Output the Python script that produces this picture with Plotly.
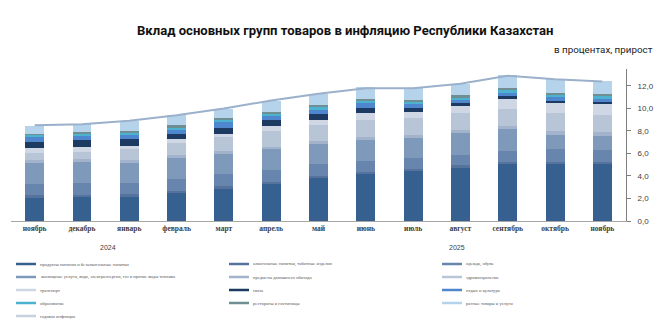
import plotly.graph_objects as go

# Months on the category axis (Nov 2024 .. Nov 2025)
months = ["ноябрь", "декабрь", "январь", "февраль", "март", "апрель", "май",
          "июнь", "июль", "август", "сентябрь", "октябрь", "ноябрь"]

# Contribution of each group to annual CPI, percentage points
food = [2.05, 2.13, 2.20, 2.46, 2.85, 3.26, 3.82, 4.15, 4.42, 4.71, 5.04, 5.13, 5.13]
alcohol = [0.23, 0.21, 0.17, 0.21, 0.30, 0.21, 0.21, 0.18, 0.24, 0.24, 0.20, 0.11, 0.11]
clothing = [1.04, 1.04, 1.01, 1.06, 1.03, 1.10, 1.07, 1.04, 0.94, 0.89, 0.98, 1.13, 1.11]
housing = [1.84, 1.86, 1.78, 1.84, 1.81, 1.80, 1.72, 1.80, 1.78, 1.96, 1.93, 1.31, 1.18]
household = [0.24, 0.24, 0.24, 0.27, 0.21, 0.18, 0.26, 0.27, 0.24, 0.26, 0.33, 0.29, 0.35]
health = [0.65, 0.62, 0.97, 1.06, 1.27, 1.45, 1.45, 1.57, 1.54, 1.54, 1.51, 1.63, 1.52]
transport = [0.44, 0.48, 0.33, 0.36, 0.30, 0.42, 0.42, 0.54, 0.50, 0.65, 0.85, 0.95, 0.97]
communication = [0.53, 0.59, 0.56, 0.51, 0.50, 0.56, 0.56, 0.53, 0.39, 0.24, 0.24, 0.12, 0.18]
recreation = [0.45, 0.42, 0.39, 0.38, 0.50, 0.39, 0.42, 0.38, 0.30, 0.30, 0.33, 0.35, 0.29]
education = [0.18, 0.21, 0.17, 0.15, 0.18, 0.18, 0.17, 0.18, 0.20, 0.21, 0.21, 0.21, 0.24]
restaurants = [0.12, 0.11, 0.15, 0.20, 0.18, 0.17, 0.21, 0.18, 0.18, 0.17, 0.18, 0.18, 0.21]
misc = [0.68, 0.69, 0.93, 0.90, 0.86, 0.95, 1.01, 1.09, 1.09, 1.04, 1.15, 1.19, 1.13]

# Annual inflation, %
annual = [8.5, 8.6, 8.9, 9.4, 10.0, 10.7, 11.3, 11.8, 11.8, 12.2, 12.9, 12.6, 12.4]

years = ["2024", "2025"]

series = [
    ("продукты питания и безалкогольные напитки", food, "#36608f"),
    ("алкогольные напитки, табачные изделия", alcohol, "#55739c"),
    ("одежда, обувь", clothing, "#6886ad"),
    ("жилищные услуги, вода, электроэнергия, газ и прочие виды топлива", housing, "#7f99bb"),
    ("предметы домашнего обихода", household, "#a2b3cb"),
    ("здравоохранение", health, "#b8c5d7"),
    ("транспорт", transport, "#ced7e3"),
    ("связь", communication, "#1c3a62"),
    ("отдых и культура", recreation, "#4f87cf"),
    ("образование", education, "#4cb2cf"),
    ("рестораны и гостиницы", restaurants, "#6f8f92"),
    ("разные товары и услуги", misc, "#b5d4ec"),
]
line_name = "годовая инфляция"
line_color = "#9bb0ca"

x = list(range(len(months)))

fig = go.Figure()
for name, vals, color in series:
    fig.add_trace(go.Bar(x=x, y=vals, name=name, marker_color=color,
                         marker_line_width=0, showlegend=False))
fig.add_trace(go.Scatter(x=x, y=annual, name=line_name, mode="lines",
                         line=dict(color=line_color, width=2), showlegend=False))

W, H = 671, 333
ML, MR, MT, MB = 11, 45, 69, 112
PW, PH = W - ML - MR, H - MT - MB

fig.update_layout(
    width=W, height=H,
    barmode="stack", bargap=0.6,
    separators=", ",
    plot_bgcolor="white", paper_bgcolor="white",
    margin=dict(l=ML, r=MR, t=MT, b=MB),
    font=dict(family="Liberation Sans", color="#404040"),
)
fig.update_xaxes(
    tickvals=x, ticktext=months, range=[-0.5, len(months) - 0.5],
    showline=True, linecolor="#a6a6a6", linewidth=1, ticks="",
    tickfont=dict(family="Liberation Serif", size=7.5, color="#404040", weight="bold"),
    showgrid=False, zeroline=False,
)
fig.update_yaxes(
    side="right", range=[0, 13.5], dtick=2, tickformat=".1f",
    showline=True, linecolor="#7f7f7f", linewidth=1,
    ticks="outside", ticklen=4, tickcolor="#7f7f7f", ticklabelstandoff=5,
    tickfont=dict(family="Liberation Sans", size=8, color="#404040"),
    showgrid=False, zeroline=False,
)


def px_x(v):
    return (v - ML) / PW


def px_y(v):
    return (H - MB - v) / PH


# Title and units
fig.add_annotation(text="<b>Вклад основных групп товаров в инфляцию Республики Казахстан</b>",
                   xref="paper", yref="paper", x=px_x(345), y=px_y(30),
                   xanchor="center", yanchor="middle", showarrow=False,
                   font=dict(family="Roboto", size=13.1, color="#111111"))
fig.add_annotation(text="в процентах, прирост", xref="paper", yref="paper",
                   x=px_x(655), y=px_y(49), xanchor="right", yanchor="middle",
                   showarrow=False, font=dict(family="Roboto", size=9.8, color="#222222"))

# Year labels under the month axis
for yr, pos in zip(years, [1.55, 8.92]):
    fig.add_annotation(text=yr, x=pos, xref="x", y=0, yref="y", yshift=-26,
                       showarrow=False, yanchor="middle",
                       font=dict(family="Liberation Sans", size=7, color="#404040"))

# Legend: three columns of short line swatches with tiny labels
entries = [(n, c) for n, _, c in series] + [(line_name, "#c7d2de")]
col_x = [16, 229, 442]
row_y = [264, 277, 290, 303, 316]
for i, (name, color) in enumerate(entries):
    cx = col_x[i % 3]
    cy = row_y[i // 3]
    fig.add_shape(type="line", xref="paper", yref="paper",
                  x0=px_x(cx), x1=px_x(cx + 20), y0=px_y(cy), y1=px_y(cy),
                  line=dict(color=color, width=2.5))
    fig.add_annotation(text=name, xref="paper", yref="paper",
                       x=px_x(cx + 22), y=px_y(cy),
                       xanchor="left", yanchor="middle", showarrow=False,
                       font=dict(family="Liberation Serif", size=4.6, color="#595959"))

fig.write_html("out.html")
